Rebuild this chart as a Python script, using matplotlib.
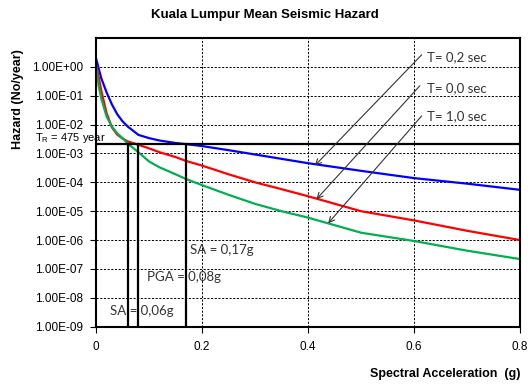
import matplotlib
matplotlib.use("Agg")
import matplotlib.pyplot as plt
from matplotlib.ticker import FixedLocator, FuncFormatter

plt.rcParams['font.family'] = ['Liberation Sans', 'DejaVu Sans']

# spectral acceleration (g) and mean annual hazard for each period
sa = [0, 0.005, 0.01, 0.02, 0.03, 0.04, 0.05, 0.06, 0.08, 0.1, 0.12, 0.15,
      0.17, 0.2, 0.25, 0.3, 0.35, 0.4, 0.5, 0.6, 0.7, 0.8]
haz_t02 = [2.0, 0.9, 0.4, 0.13, 0.05, 0.023, 0.013, 8.5e-3, 4.4e-3, 3.4e-3,
           2.8e-3, 2.3e-3, 2.1e-3, 1.8e-3, 1.3e-3, 9.2e-4, 6.5e-4, 4.6e-4,
           2.5e-4, 1.4e-4, 9e-5, 5.5e-5]
haz_t00 = [1.2, 0.45, 0.15, 0.025, 8e-3, 4.5e-3, 3.3e-3, 2.6e-3, 2.0e-3,
           1.5e-3, 1.1e-3, 7.5e-4, 5.5e-4, 3.8e-4, 1.9e-4, 1.0e-4, 5.8e-5,
           3.3e-5, 1.0e-5, 4.8e-6, 2.1e-6, 1.0e-6]
haz_t10 = [1.1, 0.22, 0.08, 0.019, 8.5e-3, 5e-3, 3.4e-3, 2.2e-3, 1.1e-3,
           5.3e-4, 3.3e-4, 1.9e-4, 1.3e-4, 8e-5, 3.7e-5, 1.8e-5, 1.0e-5,
           6e-6, 1.8e-6, 9.3e-7, 4.3e-7, 2.2e-7]

return_period = 475
design_sa = [0.06, 0.08, 0.17]
design_labels = ["SA = 0,06g", "PGA = 0,08g", "SA = 0,17g"]
design_label_pos = [(0.026, 3.4e-9), (0.0955, 5.2e-8), (0.177, 4.4e-7)]

period_labels = ["T= 0,2 sec", "T= 0,0 sec", "T= 1,0 sec"]
period_text_pos = [(0.6245, 2.1), (0.6245, 0.18), (0.6245, 0.02)]
arrow_start = [(0.6145, 2.6), (0.611, 0.22), (0.6145, 0.02)]
arrow_end = [(0.413, 3.8e-4), (0.416, 2.6e-5), (0.438, 3.8e-6)]

yticks = [10.0 ** k for k in range(-9, 1)]
xticks = [0, 0.2, 0.4, 0.6, 0.8]

fig = plt.figure(figsize=(5.3, 3.84), dpi=100)
ax = fig.add_axes([0.1811, 0.1492, 0.8, 0.752])

ax.plot(sa, haz_t02, color='#0000FF', lw=1.6, zorder=3)
ax.plot(sa, haz_t00, color='#FF0000', lw=1.6, zorder=3)
ax.plot(sa, haz_t10, color='#00B050', lw=1.6, zorder=3)

ax.set_yscale('log')
ax.set_xlim(0, 0.8)
ax.set_ylim(1e-9, 1e1)

ax.yaxis.set_major_locator(FixedLocator(yticks))
ax.yaxis.set_minor_locator(FixedLocator([]))
ax.yaxis.set_major_formatter(FuncFormatter(lambda v, p: "%.2E" % v))
ax.xaxis.set_major_locator(FixedLocator(xticks))
ax.xaxis.set_major_formatter(FuncFormatter(lambda v, p: "0" if v == 0 else "%g" % v))

ax.tick_params(direction='out', length=4, width=0.8, labelsize=8.5, colors='black')
ax.tick_params(axis='x', pad=6)
ax.tick_params(axis='y', pad=5)
ax.grid(True, color='black', ls=(0, (2.2, 1.6)), lw=0.7)
for s in ax.spines.values():
    s.set_linewidth(1.5)
    s.set_zorder(5)

# 475-year return period and design accelerations
hz = 1.0 / return_period
ax.plot([0, 0.8], [hz, hz], color='black', lw=1.6, zorder=4)
for x in design_sa:
    ax.plot([x, x], [1e-9, hz], color='black', lw=1.6, zorder=4)
ax.text(-0.115, 3.3e-3, "T$_\\mathregular{R}$ = 475 year", fontsize=8,
        va='center', ha='left', clip_on=False, zorder=6)

for lab, (tx, ty) in zip(design_labels, design_label_pos):
    ax.text(tx, ty, lab, fontsize=9.5, family='Lato', va='center', ha='left',
            color='#333333', zorder=6)

for lab, (tx, ty), st, en in zip(period_labels, period_text_pos, arrow_start, arrow_end):
    ax.text(tx, ty, lab, fontsize=9.5, family='Lato', va='center', ha='left',
            color='#333333', zorder=6)
    ax.annotate('', xy=en, xytext=st,
                arrowprops=dict(arrowstyle='->', color='#333333', lw=0.8,
                                shrinkA=0, shrinkB=0), zorder=6)

fig.text(0.5, 1 - 15 / 384, "Kuala Lumpur Mean Seismic Hazard", ha='center',
         va='center', fontsize=9.5, fontweight='bold')
fig.text(18 / 530, 1 - 99 / 384, "Hazard (No/year)", rotation=90, ha='center',
         va='center', fontsize=9, fontweight='bold')
fig.text(520 / 530, 1 - 374 / 384, "Spectral Acceleration  (g)", ha='right',
         va='center', fontsize=9, fontweight='bold')

fig.savefig('out.png', dpi=100)
